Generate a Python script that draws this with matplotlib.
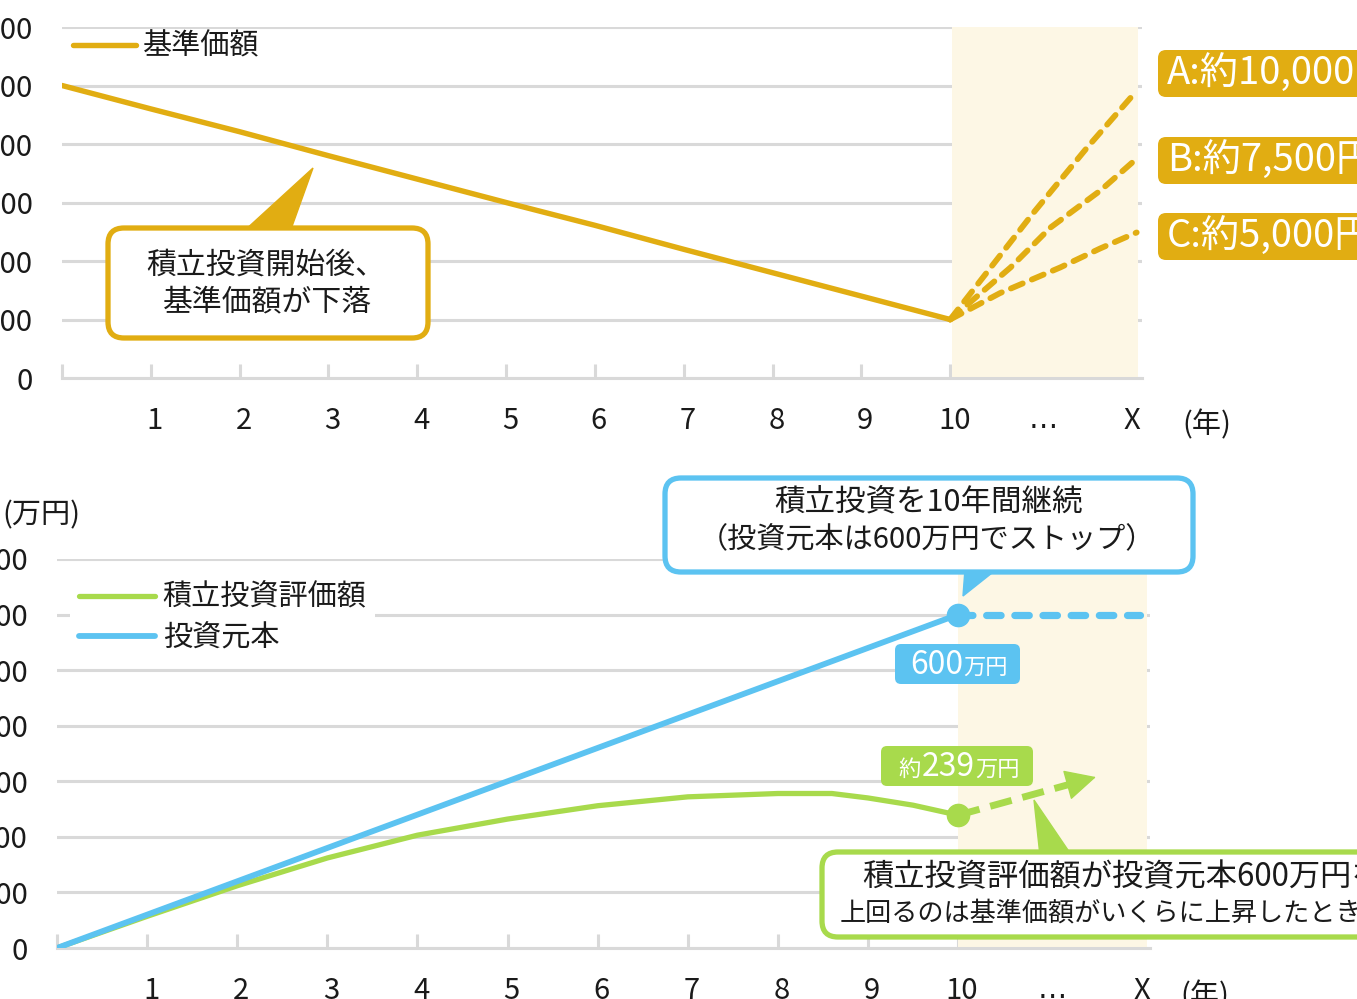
import matplotlib
matplotlib.use('Agg')
import matplotlib.pyplot as plt
from matplotlib.patches import FancyBboxPatch, Polygon
from matplotlib.transforms import IdentityTransform, ScaledTranslation

plt.rcParams['font.family'] = ['Noto Sans CJK JP', 'DejaVu Sans']

W, H = 1357, 999

GOLD = '#E1AD12'
BLUE = '#5CC3F1'
GREEN = '#A8DA4C'
SHADE = '#FDF7E5'
GRID = '#D9D9D9'
TXT = '#1A1A1A'

# --- data ---
x_labels = ['', '1', '2', '3', '4', '5', '6', '7', '8', '9', '10', '…', 'X']

# top: 基準価額 (円)
nav_years = [0, 1, 2, 3, 4, 5, 6, 7, 8, 9, 10]
nav = [10000, 9200, 8420, 7600, 6800, 6000, 5220, 4400, 3600, 2800, 2000]
scen_a_x = [10, 10.93, 11.54, 12.03]
scen_a_y = [2000, 5620, 7870, 9575]
scen_b_x = [10, 10.68, 11.13, 11.69, 12.1]
scen_b_y = [2000, 3780, 5145, 6405, 7500]
scen_c_x = [10, 10.56, 11.24, 11.69, 12.1]
scen_c_y = [2000, 2900, 3780, 4430, 4975]
scen_labels = ['A:約10,000円', 'B:約7,500円', 'C:約5,000円']

# bottom: 万円
principal_years = [0, 1, 2, 3, 4, 5, 6, 7, 8, 9, 10]
principal = [0, 60, 120, 180, 240, 300, 360, 420, 480, 540, 600]
eval_years = [0, 1, 2, 3, 4, 5, 6, 7, 8, 8.6, 9, 9.5, 10]
eval_value = [0, 57, 112, 162, 203, 232, 256, 272, 278, 278, 270, 257, 239]
principal_after_x = [10, 12.02]
principal_after_y = [600, 600]
eval_after_x = [10, 11.56]
eval_after_y = [239, 309]


def fx(x):
    return x / W


def fy(y):
    return 1 - y / H


def style_axes(ax, xmax, ymax, ystep, fmt):
    ax.set_xlim(0, xmax)
    ax.set_ylim(0, ymax)
    ax.set_axisbelow(True)
    for s in ['left', 'right', 'top']:
        ax.spines[s].set_visible(False)
    ax.spines['bottom'].set_color(GRID)
    ax.spines['bottom'].set_linewidth(2.2)
    ax.set_xticks(range(len(x_labels)))
    ax.set_xticklabels(x_labels)
    ax.set_yticks(range(0, ymax + 1, ystep))
    ax.set_yticklabels([fmt(v) for v in range(0, ymax + 1, ystep)])
    ax.tick_params(axis='x', direction='in', length=10, width=2.2, color=GRID,
                   pad=20, labelsize=21, labelcolor=TXT)
    ax.tick_params(axis='y', length=0, pad=21, labelsize=21, labelcolor=TXT)
    shift = ScaledTranslation(4 / 100, 0, fig.dpi_scale_trans)
    for lab in ax.get_xticklabels():
        lab.set_transform(lab.get_transform() + shift)
        if lab.get_text() == '…':
            lab.set_fontfamily('DejaVu Sans')
    ax.grid(axis='y', color=GRID, lw=2.2)


def white_legend(leg):
    fr = leg.get_frame()
    fr.set_facecolor('white')
    fr.set_edgecolor('none')
    fr.set_alpha(1)
    leg.set_zorder(6)
    for t in leg.get_texts():
        t.set_color(TXT)


fig = plt.figure(figsize=(W / 100, H / 100), dpi=100)

# ---------------- top chart ----------------
ax1 = fig.add_axes([fx(62), fy(378), fx(1142 - 62), (378 - 27) / H])
style_axes(ax1, 12.16, 12000, 2000, lambda v: f'{v:,}')
ax1.axvspan(10.02, 12.12, color=SHADE, lw=0, zorder=1)
ax1.plot(nav_years, nav, color=GOLD, lw=3.9, solid_capstyle='round',
         solid_joinstyle='round', zorder=3, label='基準価額')
for xs, ys in [(scen_a_x, scen_a_y), (scen_b_x, scen_b_y), (scen_c_x, scen_c_y)]:
    ax1.plot(xs, ys, color=GOLD, lw=4.2, ls=(0, (2.2, 1.7)),
             dash_capstyle='round', zorder=3)
leg1 = ax1.legend(loc='upper left', bbox_to_anchor=(fx(70), fy(29)),
                  bbox_transform=fig.transFigure, fontsize=21, frameon=True,
                  handlelength=2.15, handletextpad=0.25, borderpad=0.1,
                  borderaxespad=0)
white_legend(leg1)

# ---------------- bottom chart ----------------
ax2 = fig.add_axes([fx(57), fy(948), fx(1150 - 57), (948 - 559) / H])
style_axes(ax2, 12.13, 700, 100, lambda v: f'{v}')
ax2.axvspan(10.0, 12.1, color=SHADE, lw=0, zorder=1)
ax2.plot(eval_years, eval_value, color=GREEN, lw=3.8, solid_capstyle='round',
         solid_joinstyle='round', zorder=3, label='積立投資評価額')
ax2.plot(principal_years, principal, color=BLUE, lw=4.2, solid_capstyle='round',
         solid_joinstyle='round', zorder=4, label='投資元本')
ax2.plot(principal_after_x, principal_after_y, color=BLUE, lw=5.2,
         ls=(0, (2.0, 1.9)), dash_capstyle='round', zorder=3)
ax2.plot(principal_after_x[:1], principal_after_y[:1], 'o', color=BLUE,
         ms=16, zorder=5)
ax2.plot(eval_after_x[0:1], eval_after_y[0:1], 'o', color=GREEN, ms=16, zorder=5)
ax2.plot([eval_after_x[0], eval_after_x[1] - 0.12],
         [eval_after_y[0], eval_after_y[1] - 0.12 * 45], color=GREEN, lw=5,
         ls=(0, (3.2, 1.6)), dash_capstyle='butt', zorder=4)
ax2.annotate('', xy=(eval_after_x[1], eval_after_y[1]),
             xytext=(eval_after_x[1] - 0.2, eval_after_y[1] - 0.2 * 45),
             arrowprops=dict(arrowstyle='-|>,head_length=1.0,head_width=0.5',
                             color=GREEN, lw=1, mutation_scale=20),
             zorder=5)
leg2 = ax2.legend(loc='upper left', bbox_to_anchor=(fx(70), fy(574)),
                  bbox_transform=fig.transFigure, fontsize=21, frameon=True,
                  handlelength=2.6, handletextpad=0.28, borderpad=0.3,
                  labelspacing=0.37, borderaxespad=0)
white_legend(leg2)

# ---------------- annotations (pixel layout) ----------------
ID = IdentityTransform()


def box(x0, y0, x1, y1, ec, fc='white', lw=3.8, r=16, z=10):
    p = FancyBboxPatch((x0, H - y1), x1 - x0, y1 - y0,
                       boxstyle=f'round,pad=0,rounding_size={r}',
                       transform=ID, fc=fc, ec=ec, lw=lw, zorder=z)
    fig.add_artist(p)


def tri(pts, c, z=9):
    p = Polygon([(x, H - y) for x, y in pts], closed=True, transform=ID,
                fc=c, ec=c, lw=1, zorder=z)
    fig.add_artist(p)


def txt(x, y, s, size=19, color=TXT, ha='center', va='center', **kw):
    fig.text(fx(x), fy(y), s, fontsize=size, color=color, ha=ha, va=va,
             zorder=12, **kw)


# top callout
tri([(243, 232), (290, 232), (313, 168)], GOLD)
box(108, 228, 428, 338, GOLD)
txt(266, 265, '積立投資開始後、', size=21.5)
txt(267, 302, '基準価額が下落', size=21.5)

# scenario labels
for lab, (y0, y1) in zip(scen_labels, [(50, 97), (137, 184), (213, 260)]):
    box(1158, y0, 1420, y1, GOLD, fc=GOLD, lw=0, r=8)
    txt(1167, (y0 + y1) / 2 + 1, lab, size=27.5, color='white', ha='left')

# blue callout
tri([(965, 569), (997, 569), (963, 596)], BLUE)
box(665, 478, 1193, 572, BLUE)
txt(929, 502, '積立投資を10年間継続', size=22)
txt(927, 540, '（投資元本は600万円でストップ）', size=21)

# green callout
tri([(1040, 856), (1072, 856), (1034, 800)], GREEN)
box(822, 852, 1420, 937, GREEN)
txt(862, 877, '積立投資評価額が投資元本600万円を', size=22.5, ha='left')
txt(840, 913, '上回るのは基準価額がいくらに上昇したとき？', size=18.8, ha='left')

# value tags
box(895, 644, 1020, 684, BLUE, fc=BLUE, lw=0, r=6)
txt(963, 674, '600', size=23, color='white', ha='right', va='baseline')
txt(963, 674, '万円', size=16, color='white', ha='left', va='baseline')
box(881, 746, 1033, 786, GREEN, fc=GREEN, lw=0, r=6)
txt(921, 776, '約', size=16, color='white', ha='right', va='baseline')
txt(975, 776, '239', size=23, color='white', ha='right', va='baseline')
txt(975, 776, '万円', size=16, color='white', ha='left', va='baseline')

# unit labels
txt(1207, 425, '(年)', size=21)
txt(1205, 996, '(年)', size=21)
txt(80, 515, '(万円)', size=21, ha='right')

fig.savefig('out.png', dpi=100)
